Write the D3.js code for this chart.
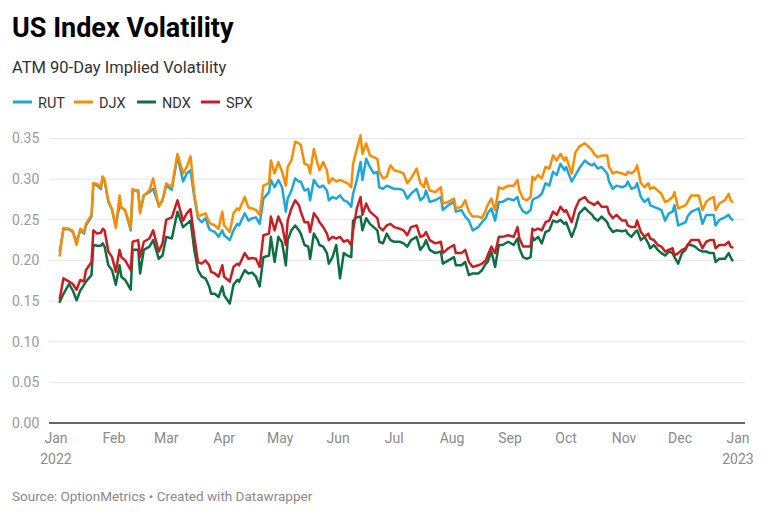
<!DOCTYPE html>
<html>
<head>
<meta charset="utf-8">
<script src="https://cdn.jsdelivr.net/npm/d3@7"></script>
<style>
  html, body { margin: 0; padding: 0; background: #fff; }
  svg { display: block; font-family: Roboto, "Noto Sans", sans-serif; }
</style>
</head>
<body>
<svg id="chart" width="768" height="520"></svg>
<script>
const seriesNames = ["RUT", "DJX", "NDX", "SPX"];
const seriesColors = ["#1da6d6", "#fa8c00", "#0e6e43", "#c81e23"];

const dates = [
  "2022-01-03","2022-01-05","2022-01-08","2022-01-10","2022-01-12","2022-01-14","2022-01-16","2022-01-17","2022-01-20","2022-01-21",
  "2022-01-23","2022-01-25","2022-01-26","2022-01-27","2022-01-29","2022-01-31","2022-02-02","2022-02-04","2022-02-05","2022-02-07",
  "2022-02-10","2022-02-11","2022-02-14","2022-02-15","2022-02-17","2022-02-20","2022-02-22","2022-02-25","2022-02-27",
  "2022-03-01","2022-03-04","2022-03-07","2022-03-10","2022-03-12","2022-03-14","2022-03-16","2022-03-18","2022-03-20","2022-03-22",
  "2022-03-24","2022-03-25","2022-03-27","2022-03-29","2022-03-31","2022-04-01","2022-04-04","2022-04-06","2022-04-08","2022-04-09",
  "2022-04-12","2022-04-14","2022-04-16","2022-04-18","2022-04-20","2022-04-22","2022-04-25","2022-04-26","2022-04-28","2022-04-30",
  "2022-05-02","2022-05-04","2022-05-05","2022-05-07","2022-05-09","2022-05-11","2022-05-12","2022-05-14","2022-05-16","2022-05-17",
  "2022-05-19","2022-05-21","2022-05-22","2022-05-24","2022-05-26","2022-05-27","2022-05-29","2022-05-31","2022-06-02","2022-06-04",
  "2022-06-06","2022-06-08","2022-06-09","2022-06-11","2022-06-13","2022-06-14","2022-06-16","2022-06-18","2022-06-20","2022-06-22",
  "2022-06-23","2022-06-25","2022-06-27","2022-06-29","2022-07-01",
  "2022-07-04","2022-07-06","2022-07-08","2022-07-10","2022-07-13","2022-07-15","2022-07-17","2022-07-18","2022-07-20","2022-07-23",
  "2022-07-26","2022-07-27","2022-07-30","2022-08-02","2022-08-03","2022-08-06","2022-08-08","2022-08-10","2022-08-12","2022-08-15",
  "2022-08-17","2022-08-19","2022-08-20","2022-08-22","2022-08-24","2022-08-26","2022-08-28","2022-08-31",
  "2022-09-03","2022-09-05","2022-09-06","2022-09-08","2022-09-10","2022-09-12","2022-09-13","2022-09-14","2022-09-16","2022-09-18",
  "2022-09-20","2022-09-22","2022-09-24","2022-09-26","2022-09-28","2022-09-30","2022-10-01","2022-10-04","2022-10-06","2022-10-08",
  "2022-10-11","2022-10-13","2022-10-15","2022-10-16","2022-10-18","2022-10-20","2022-10-23","2022-10-24","2022-10-26","2022-10-28",
  "2022-10-31","2022-11-02",
  "2022-11-03","2022-11-05","2022-11-07","2022-11-08","2022-11-10","2022-11-12","2022-11-14","2022-11-15","2022-11-17","2022-11-19",
  "2022-11-21","2022-11-23","2022-11-25","2022-11-27","2022-11-28","2022-11-30","2022-12-02","2022-12-04","2022-12-05","2022-12-07",
  "2022-12-09","2022-12-11","2022-12-13","2022-12-15","2022-12-17","2022-12-19","2022-12-20","2022-12-22","2022-12-25","2022-12-27",
  "2022-12-28","2022-12-29"
];

const rut = [
  0.211,0.239,0.238,0.235,0.223,0.237,0.233,0.243,0.254,0.295,0.292,0.288,0.303,0.298,0.272,0.262,0.243,0.268,0.265,0.262,
  0.237,0.286,0.286,0.260,0.280,0.284,0.288,0.268,0.274,
  0.292,0.287,0.329,0.297,0.307,0.311,0.278,0.252,0.247,0.252,0.239,0.237,0.235,0.229,0.237,0.231,0.225,0.237,0.245,0.243,
  0.258,0.249,0.252,0.253,0.245,0.276,0.284,0.299,0.290,0.299,
  0.290,0.260,0.276,0.286,0.301,0.297,0.297,0.286,0.288,0.274,0.299,0.292,0.290,0.292,0.286,0.274,0.278,0.276,0.280,0.274,
  0.272,0.266,0.282,0.299,0.321,0.299,0.325,0.315,0.307,0.309,0.290,0.288,0.292,0.290,0.288,
  0.288,0.286,0.276,0.282,0.288,0.274,0.278,0.286,0.272,0.274,0.278,0.262,0.268,0.272,0.260,0.262,0.254,0.249,0.237,0.241,
  0.247,0.252,0.258,0.264,0.249,0.272,0.272,0.276,
  0.274,0.278,0.268,0.260,0.258,0.262,0.274,0.276,0.278,0.282,0.295,0.292,0.309,0.305,0.319,0.311,0.315,0.297,0.305,0.313,
  0.323,0.319,0.317,0.319,0.313,0.315,0.307,0.297,0.288,0.292,0.290,0.292,
  0.297,0.288,0.290,0.295,0.278,0.272,0.276,0.268,0.266,0.264,0.262,0.249,0.258,0.260,0.268,0.243,0.245,0.247,0.254,0.260,
  0.262,0.264,0.245,0.256,0.256,0.256,0.243,0.250,0.253,0.256,0.252,0.250
];

const djx = [
  0.206,0.240,0.239,0.236,0.219,0.239,0.235,0.245,0.256,0.295,0.294,0.290,0.303,0.299,0.273,0.263,0.240,0.280,0.265,0.262,
  0.239,0.288,0.284,0.258,0.280,0.286,0.301,0.266,0.274,
  0.295,0.290,0.331,0.307,0.315,0.328,0.282,0.254,0.256,0.258,0.247,0.245,0.243,0.239,0.260,0.243,0.235,0.258,0.264,0.262,
  0.278,0.265,0.264,0.262,0.256,0.292,0.295,0.323,0.307,0.321,
  0.309,0.292,0.315,0.323,0.346,0.344,0.342,0.319,0.317,0.307,0.337,0.319,0.311,0.321,0.311,0.295,0.301,0.297,0.299,0.297,
  0.295,0.290,0.319,0.337,0.354,0.331,0.344,0.329,0.327,0.325,0.309,0.301,0.303,0.317,0.311,
  0.309,0.307,0.295,0.301,0.313,0.295,0.290,0.301,0.286,0.284,0.290,0.270,0.272,0.276,0.264,0.266,0.274,0.260,0.254,0.254,
  0.252,0.262,0.268,0.276,0.262,0.290,0.288,0.292,
  0.292,0.299,0.286,0.276,0.274,0.278,0.303,0.299,0.305,0.301,0.315,0.313,0.329,0.323,0.331,0.323,0.327,0.307,0.333,0.340,
  0.344,0.340,0.335,0.331,0.327,0.329,0.329,0.315,0.307,0.309,0.307,0.305,
  0.309,0.307,0.311,0.317,0.295,0.290,0.295,0.288,0.290,0.286,0.282,0.272,0.274,0.278,0.284,0.264,0.266,0.268,0.272,0.280,
  0.280,0.280,0.262,0.272,0.276,0.278,0.262,0.270,0.274,0.282,0.274,0.272
];

const ndx = [
  0.149,0.159,0.171,0.163,0.151,0.163,0.170,0.174,0.182,0.219,0.218,0.218,0.221,0.217,0.194,0.188,0.170,0.194,0.180,0.176,
  0.164,0.213,0.213,0.184,0.213,0.217,0.225,0.202,0.206,
  0.229,0.227,0.260,0.241,0.245,0.249,0.213,0.188,0.180,0.178,0.168,0.159,0.159,0.155,0.168,0.157,0.147,0.170,0.176,0.174,
  0.188,0.184,0.185,0.180,0.168,0.204,0.206,0.229,0.198,0.229,
  0.222,0.194,0.225,0.237,0.243,0.237,0.233,0.219,0.217,0.202,0.233,0.225,0.219,0.217,0.209,0.196,0.204,0.219,0.178,0.209,
  0.206,0.204,0.249,0.253,0.254,0.237,0.252,0.245,0.241,0.237,0.223,0.221,0.233,0.225,0.223,
  0.223,0.221,0.217,0.225,0.229,0.213,0.219,0.225,0.213,0.209,0.211,0.196,0.200,0.204,0.194,0.194,0.198,0.182,0.184,0.184,
  0.188,0.196,0.198,0.211,0.192,0.219,0.219,0.223,
  0.219,0.227,0.215,0.204,0.202,0.204,0.229,0.225,0.229,0.221,0.235,0.237,0.249,0.247,0.250,0.245,0.247,0.229,0.241,0.258,
  0.265,0.260,0.256,0.252,0.249,0.254,0.247,0.241,0.235,0.237,0.236,0.237,
  0.233,0.229,0.235,0.237,0.225,0.229,0.221,0.215,0.219,0.213,0.209,0.206,0.211,0.209,0.204,0.196,0.209,0.213,0.219,0.219,
  0.217,0.213,0.211,0.211,0.209,0.209,0.198,0.202,0.202,0.209,0.204,0.200
];

const spx = [
  0.153,0.178,0.174,0.171,0.164,0.176,0.174,0.188,0.198,0.237,0.233,0.234,0.239,0.237,0.211,0.204,0.186,0.213,0.204,0.200,
  0.188,0.223,0.225,0.204,0.223,0.227,0.237,0.211,0.221,
  0.250,0.253,0.274,0.249,0.258,0.263,0.229,0.198,0.196,0.200,0.194,0.186,0.184,0.180,0.194,0.180,0.174,0.192,0.196,0.194,
  0.209,0.202,0.203,0.202,0.192,0.231,0.233,0.254,0.237,0.254,
  0.243,0.219,0.249,0.264,0.274,0.268,0.260,0.247,0.247,0.235,0.258,0.252,0.247,0.241,0.233,0.225,0.229,0.227,0.229,0.223,
  0.225,0.219,0.237,0.264,0.278,0.256,0.270,0.260,0.256,0.252,0.241,0.237,0.243,0.245,0.241,
  0.239,0.237,0.231,0.241,0.243,0.229,0.231,0.235,0.225,0.221,0.223,0.209,0.215,0.219,0.209,0.209,0.213,0.198,0.192,0.194,
  0.196,0.200,0.206,0.217,0.209,0.229,0.229,0.231,
  0.229,0.241,0.227,0.217,0.217,0.217,0.239,0.237,0.239,0.237,0.247,0.249,0.260,0.256,0.266,0.260,0.262,0.247,0.264,0.274,
  0.278,0.272,0.270,0.268,0.272,0.266,0.266,0.258,0.252,0.256,0.249,0.249,
  0.243,0.241,0.241,0.249,0.235,0.229,0.233,0.227,0.225,0.219,0.217,0.211,0.213,0.215,0.206,0.209,0.213,0.215,0.219,0.225,
  0.225,0.225,0.215,0.223,0.225,0.225,0.215,0.219,0.219,0.223,0.217,0.216
];

const yTicks = [0, 0.05, 0.10, 0.15, 0.20, 0.25, 0.30, 0.35];
const monthTicks = ["2022-01-01","2022-02-01","2022-03-01","2022-04-01","2022-05-01","2022-06-01","2022-07-01",
  "2022-08-01","2022-09-01","2022-10-01","2022-11-01","2022-12-01","2023-01-01"];

const title = "US Index Volatility";
const subtitle = "ATM 90-Day Implied Volatility";
const footer = "Source: OptionMetrics • Created with Datawrapper";

// ---- drawing ----
const svg = d3.select("#chart");
const parse = d3.utcParse("%Y-%m-%d");
const values = [rut, djx, ndx, spx];

const x = d3.scaleUtc()
  .domain([parse("2022-01-01"), parse("2023-01-01")])
  .range([56, 738]);
const y = d3.scaleLinear().domain([0, 0.35]).range([423, 138.5]);
const gridLeft = 49, gridRight = 745;

svg.append("text").attr("x", 12).attr("y", 37)
  .attr("font-size", 27).attr("font-weight", 700).attr("fill", "#000")
  .text(title);
svg.append("text").attr("x", 12).attr("y", 73)
  .attr("font-size", 16.5).attr("fill", "#333")
  .text(subtitle);

// legend
const legendX = [13, 74, 137, 201];
const lg = svg.append("g");
seriesNames.forEach((name, i) => {
  const g = lg.append("g").attr("transform", `translate(${legendX[i]},102)`);
  g.append("line").attr("x1", 0).attr("x2", 19).attr("y1", 0).attr("y2", 0)
    .attr("stroke", seriesColors[i]).attr("stroke-width", 3);
  g.append("text").attr("x", 25).attr("y", 5.5)
    .attr("font-size", 14.5).attr("fill", "#333").text(name);
});

// grid + y labels
const yg = svg.append("g");
yTicks.forEach(t => {
  if (t !== 0) {
    yg.append("line").attr("x1", gridLeft).attr("x2", gridRight)
      .attr("y1", y(t)).attr("y2", y(t))
      .attr("stroke", "#e6e6e6").attr("stroke-width", 1);
  }
  yg.append("text").attr("x", 12).attr("y", y(t))
    .attr("dy", "0.35em").attr("font-size", 14).attr("fill", "#9a9a9a")
    .text(d3.format(".2f")(t));
});

// x labels
const xg = svg.append("g");
monthTicks.forEach((s, i) => {
  const d = parse(s);
  xg.append("text").attr("x", x(d)).attr("y", 443)
    .attr("text-anchor", "middle").attr("font-size", 14).attr("fill", "#8a8a8a")
    .text(d3.utcFormat("%b")(d));
  if (i === 0 || i === monthTicks.length - 1) {
    xg.append("text").attr("x", x(d)).attr("y", 464)
      .attr("text-anchor", "middle").attr("font-size", 14).attr("fill", "#8a8a8a")
      .text(d3.utcFormat("%Y")(d));
  }
});

// lines
const line = d3.line()
  .x((d, i) => x(parse(dates[i])))
  .y(d => y(d))
  .curve(d3.curveLinear);

[0, 1, 2, 3].forEach(i => {
  svg.append("path")
    .datum(values[i])
    .attr("fill", "none")
    .attr("stroke", seriesColors[i])
    .attr("stroke-width", 2.5)
    .attr("stroke-linejoin", "round")
    .attr("stroke-linecap", "round")
    .attr("d", line);
});

// zero baseline
svg.append("line").attr("x1", gridLeft).attr("x2", gridRight)
  .attr("y1", y(0)).attr("y2", y(0))
  .attr("stroke", "#333").attr("stroke-width", 1.5);

svg.append("text").attr("x", 12).attr("y", 501)
  .attr("font-size", 13.5).attr("fill", "#8a8a8a")
  .text(footer);
</script>
</body>
</html>
